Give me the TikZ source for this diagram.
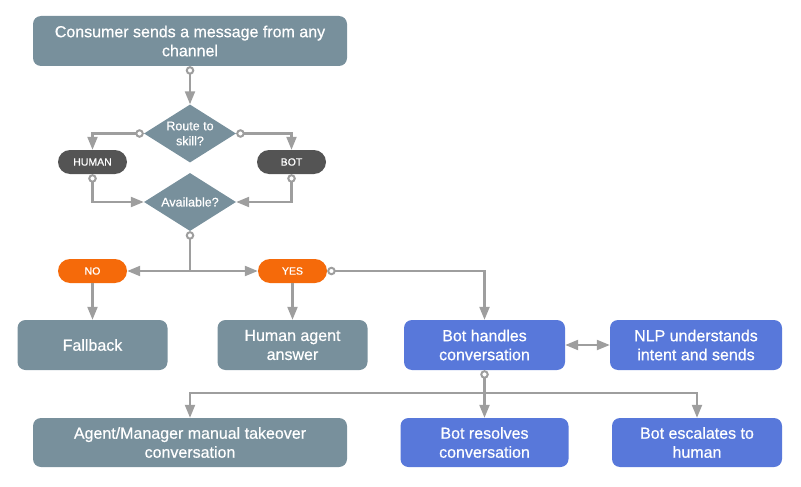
\documentclass[tikz,border=0pt]{standalone}
\usepackage{fontspec}
\setmainfont{Liberation Sans}[FakeBold=0.6]
\usetikzlibrary{arrows.meta,shapes.geometric}
\definecolor{boxgrey}{HTML}{78909C}
\definecolor{boxblue}{HTML}{5878DA}
\definecolor{pillorange}{HTML}{F56A0A}
\definecolor{pilldark}{HTML}{545454}
\definecolor{linegrey}{HTML}{9E9E9E}
\begin{document}
\begin{tikzpicture}[x=1pt,y=-1pt,
  box/.style={rounded corners=8pt, fill=#1, text=white, align=center,
    font=\fontsize{16}{19}\selectfont, inner sep=0pt, minimum height=50pt},
  dmd/.style={diamond, fill=boxgrey, text=white, align=center, inner sep=0pt,
    shape aspect=1.6, minimum width=92pt, minimum height=58pt,
    font=\fontsize{12.5}{15}\selectfont},
  pill/.style={rounded corners=12pt, fill=#1, text=white, inner sep=0pt,
    minimum width=69pt, minimum height=24pt, font=\fontsize{10.5}{12}\selectfont},
  conn/.style={draw=linegrey, line width=2.2pt},
  arr/.style={conn, -{Triangle[length=13pt,width=10pt]}},
  arrc/.style={conn, {Circle[length=8.5pt,width=8.5pt,line width=2pt,fill=white]}-{Triangle[length=13pt,width=10pt]}},
  circ/.style={conn, {Circle[length=8.5pt,width=8.5pt,line width=2pt,fill=white]}-},
  dbl/.style={conn, {Triangle[length=13pt,width=10pt]}-{Triangle[length=13pt,width=10pt]}}
]
\useasboundingbox (0,0) rectangle (801,487);

\node[box=boxgrey, minimum width=314pt] (top) at (190,41) {Consumer sends a message from any\\channel};
\node[dmd] (route) at (190,133.5) {Route to\\skill?};
\node[pill=pilldark] (human) at (92.5,162) {HUMAN};
\node[pill=pilldark] (bot) at (291.5,162) {BOT};
\node[dmd] (avail) at (190,202) {Available?};
\node[pill=pillorange] (no) at (92.5,271) {NO};
\node[pill=pillorange] (yes) at (292.5,271) {YES};
\node[box=boxgrey, minimum width=150pt] (fallback) at (92.5,345) {Fallback};
\node[box=boxgrey, minimum width=150pt] (humanagent) at (292.5,345) {Human agent\\answer};
\node[box=boxblue, minimum width=161pt] (bothandles) at (484.5,345) {Bot handles\\conversation};
\node[box=boxblue, minimum width=172pt] (nlp) at (696,345) {NLP understands\\intent and sends};
\node[box=boxgrey, minimum width=314pt, minimum height=49pt] (agent) at (190,442.5) {Agent/Manager manual takeover\\conversation};
\node[box=boxblue, minimum width=168pt, minimum height=49pt] (resolves) at (484.5,442.5) {Bot resolves\\conversation};
\node[box=boxblue, minimum width=170pt, minimum height=49pt] (escalates) at (697,442.5) {Bot escalates to\\human};

\draw[arrc] (top.south) -- (route.north);
\draw[arrc] (route.west) -| (human.north);
\draw[arrc] (route.east) -| (bot.north);
\draw[arrc] (human.south) |- (avail.west);
\draw[arrc] (bot.south) |- (avail.east);
\draw[circ] (avail.south) -- (avail.south |- no.east) coordinate (s1);
\draw[arr] (s1) -- (no.east);
\draw[arr] (s1) -- (yes.west);
\draw[arrc] (yes.east) -| (bothandles.north);
\draw[arr] (no.south) -- (fallback.north);
\draw[arr] (yes.south) -- (humanagent.north);
\draw[dbl] (bothandles.east) -- (nlp.west);
\draw[circ] (bothandles.south) -- ++(0,23) coordinate (s2);
\draw[arr] (s2) -| (agent.north);
\draw[arr] (s2) -- (resolves.north);
\draw[arr] (s2) -| (escalates.north);
\end{tikzpicture}
\end{document}
